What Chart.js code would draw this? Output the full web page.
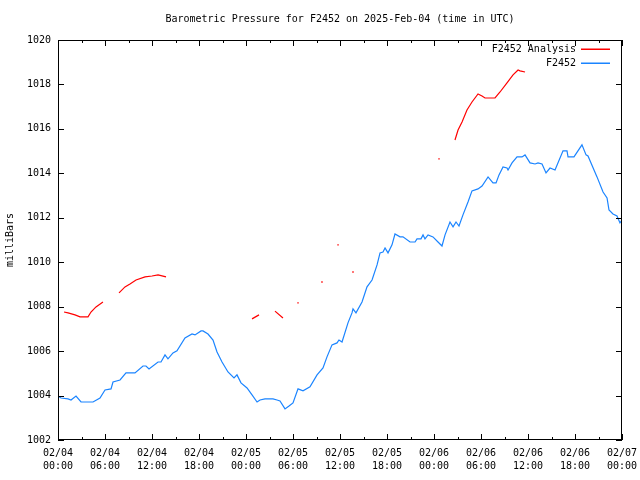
<!DOCTYPE html>
<html>
<head>
<meta charset="utf-8">
<script src="https://cdn.jsdelivr.net/npm/chart.js@4.4.1/dist/chart.umd.min.js"></script>
<style>
  body { margin: 0; background: #fff; }
</style>
</head>
<body>
<canvas id="pressureChart" width="640" height="480"></canvas>
<script>
// hours since 02/04 00:00 UTC
const stationHours = [0, 0.38, 1.28, 1.66, 2.30, 2.94, 4.47, 5.36, 6.00, 6.77, 7.02, 7.92, 8.68, 9.83, 10.85, 11.23,
    11.62, 12.77, 13.15, 13.66, 14.04, 14.68, 15.19, 16.21, 17.11, 17.49, 18.26, 18.51, 19.15, 19.79, 20.30, 20.94,
    21.70, 22.47, 22.85, 23.36, 24.13, 24.77, 25.41, 25.79, 26.43, 27.45, 27.96, 28.34, 28.98, 29.49, 30.00, 30.64,
    31.28, 32.17, 33.07, 33.83, 34.34, 34.98, 35.62, 35.87, 36.26, 37.02, 37.53, 37.66, 38.04, 38.81, 39.45, 40.09,
    40.73, 41.11, 41.49, 41.75, 42.13, 42.64, 43.02, 43.66, 44.04, 44.94, 45.58, 45.83, 46.34, 46.60, 46.85, 47.24,
    47.87, 48.51, 49.02, 49.41, 50.04, 50.43, 50.81, 51.19, 51.70, 52.34, 52.85, 53.62, 54.13, 54.90, 55.53, 55.92,
    56.30, 56.81, 57.32, 57.45, 57.96, 58.60, 59.24, 59.62, 60.26, 60.90, 61.28, 61.79, 62.30, 62.81, 63.45, 64.47,
    64.98, 65.11, 65.87, 66.89, 67.41, 67.66, 68.81, 69.58, 70.09, 70.34, 70.85, 71.36, 71.74, 72];
const stationValues = [1003.98, 1003.89, 1003.85, 1003.80, 1003.98, 1003.71, 1003.71, 1003.89, 1004.25, 1004.30, 1004.61,
    1004.70, 1005.02, 1005.02, 1005.33, 1005.33, 1005.20, 1005.51, 1005.51, 1005.83, 1005.65, 1005.92, 1006.01, 1006.59,
    1006.77, 1006.73, 1006.91, 1006.91, 1006.77, 1006.50, 1005.96, 1005.51, 1005.06, 1004.79, 1004.93, 1004.57, 1004.34,
    1004.03, 1003.71, 1003.80, 1003.85, 1003.85, 1003.80, 1003.76, 1003.40, 1003.53, 1003.67, 1004.30, 1004.21, 1004.39,
    1004.93, 1005.24, 1005.74, 1006.28, 1006.37, 1006.50, 1006.41, 1007.27, 1007.72, 1007.90, 1007.72, 1008.21, 1008.89,
    1009.20, 1009.88, 1010.42, 1010.46, 1010.64, 1010.42, 1010.78, 1011.27, 1011.14, 1011.14, 1010.91, 1010.91, 1011.05,
    1011.05, 1011.23, 1011.05, 1011.23, 1011.14, 1010.91, 1010.73, 1011.23, 1011.81, 1011.59, 1011.81, 1011.63, 1012.13,
    1012.71, 1013.21, 1013.30, 1013.43, 1013.84, 1013.57, 1013.57, 1013.93, 1014.29, 1014.24, 1014.15, 1014.47, 1014.74,
    1014.74, 1014.83, 1014.47, 1014.42, 1014.47, 1014.42, 1014.02, 1014.24, 1014.15, 1015.01, 1015.01, 1014.74, 1014.74,
    1015.28, 1014.83, 1014.78, 1013.84, 1013.16, 1012.89, 1012.35, 1012.17, 1012.08, 1011.77, 1011.90];

// analysis series, null = gap
const analysisHours = [0.77, 1.28, 2.17, 2.81, 3.57, 3.83, 4.21, 4.85, 5.74, 6.8,
    7.79, 8.55, 9.19, 9.96, 11.11, 12.00, 12.77, 13.79, 20,
    24.77, 25.66, 26.7, 27.70, 28.72, 29.7, 30.64, 32.2, 33.70, 34.7, 35.75, 36.7, 37.66, 43, 48.64, 49.7,
    50.68, 51.07, 51.58, 52.21, 52.85, 53.62, 54.13, 54.51, 55.79, 56.43, 57.32, 58.09, 58.73, 58.98, 59.62];
const analysisValues = [1007.76, 1007.72, 1007.63, 1007.54, 1007.54, 1007.54, 1007.76, 1007.99, 1008.21, null,
    1008.62, 1008.89, 1009.02, 1009.20, 1009.34, 1009.38, 1009.43, 1009.34, null,
    1007.45, 1007.63, null, 1007.80, 1007.49, null, 1008.17, null, 1009.11, null, 1010.78, null, 1009.56, null, 1014.65, null,
    1015.50, 1015.95, 1016.31, 1016.85, 1017.21, 1017.57, 1017.48, 1017.39, 1017.39, 1017.66, 1018.07, 1018.43, 1018.65,
    1018.61, 1018.56];

const tickDays = ['02/04', '02/04', '02/04', '02/04', '02/05', '02/05', '02/05', '02/05', '02/06', '02/06', '02/06', '02/06', '02/07'];
const tickTimes = ['00:00', '06:00', '12:00', '18:00', '00:00', '06:00', '12:00', '18:00', '00:00', '06:00', '12:00', '18:00', '00:00'];

const titleText = 'Barometric Pressure for F2452 on 2025-Feb-04 (time in UTC)';
const seriesNames = ['F2452 Analysis', 'F2452'];
const seriesColors = ['#ff0000', '#1a84ff'];

const font = "'DejaVu Sans Mono', monospace";

// gnuplot-ish frame, inward ticks, title and legend
const gnuplotFrame = {
    id: 'gnuplotFrame',
    afterDraw(chart) {
        const { ctx, chartArea: a, scales: { x, y } } = chart;
        ctx.save();
        ctx.strokeStyle = '#000';
        ctx.lineWidth = 1;
        ctx.strokeRect(a.left + 0.5, a.top + 0.5, a.right - a.left - 1, a.bottom - a.top - 1);
        ctx.beginPath();
        for (let h = x.min; h <= x.max; h += 3) {
            const px = Math.round(x.getPixelForValue(h)) + 0.5;
            const len = h % 6 === 0 ? 6 : 3;
            ctx.moveTo(px, a.bottom); ctx.lineTo(px, a.bottom - len);
            ctx.moveTo(px, a.top); ctx.lineTo(px, a.top + len);
        }
        y.ticks.forEach(t => {
            const py = Math.round(y.getPixelForValue(t.value)) + 0.5;
            ctx.moveTo(a.left, py); ctx.lineTo(a.left + 6, py);
            ctx.moveTo(a.right, py); ctx.lineTo(a.right - 6, py);
        });
        ctx.stroke();

        ctx.fillStyle = '#000';
        ctx.font = '10px ' + font;
        ctx.textAlign = 'center';
        ctx.textBaseline = 'middle';
        ctx.fillText(titleText, (a.left + a.right) / 2, 19);

        ctx.textAlign = 'right';
        seriesNames.forEach((name, i) => {
            const ly = 49 + i * 14;
            ctx.fillStyle = '#000';
            ctx.fillText(name, 576, ly);
            ctx.fillStyle = seriesColors[i];
            ctx.fillRect(581, ly - 0.5, 29, 1.5);
        });
        ctx.restore();
    }
};

function isolated(ctx) {
    const d = ctx.dataset.data;
    const i = ctx.dataIndex;
    if (!d[i] || d[i].y === null) return 0;
    const prev = i > 0 ? d[i - 1].y : null;
    const next = i < d.length - 1 ? d[i + 1].y : null;
    return (prev === null && next === null) ? 1 : 0;
}

const config = {
    type: 'line',
    data: {
        datasets: [{
            label: seriesNames[0],
            data: analysisHours.map((h, i) => ({ x: h, y: analysisValues[i] })),
            borderColor: seriesColors[0],
            backgroundColor: seriesColors[0],
            borderWidth: 1.2,
            pointRadius: isolated,
            pointStyle: 'rect',
            pointBorderWidth: 0,
            spanGaps: false,
            tension: 0
        }, {
            label: seriesNames[1],
            data: stationHours.map((h, i) => ({ x: h, y: stationValues[i] })),
            borderColor: seriesColors[1],
            borderWidth: 1.2,
            pointRadius: 0,
            tension: 0
        }]
    },
    options: {
        responsive: false,
        animation: false,
        layout: { padding: { top: 40, right: 18, left: 0, bottom: 0 } },
        plugins: {
            legend: { display: false },
            title: { display: false },
            tooltip: { enabled: false }
        },
        scales: {
            x: {
                type: 'linear',
                min: 0,
                max: 72,
                afterFit: s => { s.height = 40; s.paddingLeft = 0; s.paddingRight = 0; },
                grid: { display: false, drawTicks: false },
                border: { display: false },
                ticks: {
                    stepSize: 6,
                    autoSkip: false,
                    maxRotation: 0,
                    padding: 7,
                    color: '#000',
                    font: { family: font, size: 10, lineHeight: 1.3 },
                    callback: v => [tickDays[v / 6], tickTimes[v / 6]]
                }
            },
            y: {
                min: 1002,
                max: 1020,
                afterFit: s => { s.width = 58; s.paddingTop = 0; s.paddingBottom = 0; },
                grid: { display: false, drawTicks: false },
                border: { display: false },
                ticks: {
                    stepSize: 2,
                    padding: 7,
                    color: '#000',
                    font: { family: font, size: 10 },
                    callback: v => String(v)
                },
                title: {
                    display: true,
                    text: 'milliBars',
                    color: '#000',
                    padding: { top: 4, bottom: 0 },
                    font: { family: font, size: 10 }
                }
            }
        }
    },
    plugins: [gnuplotFrame]
};

window.onload = function () {
    const ctx = document.getElementById('pressureChart').getContext('2d');
    window.pressureChart = new Chart(ctx, config);
};
</script>
</body>
</html>
